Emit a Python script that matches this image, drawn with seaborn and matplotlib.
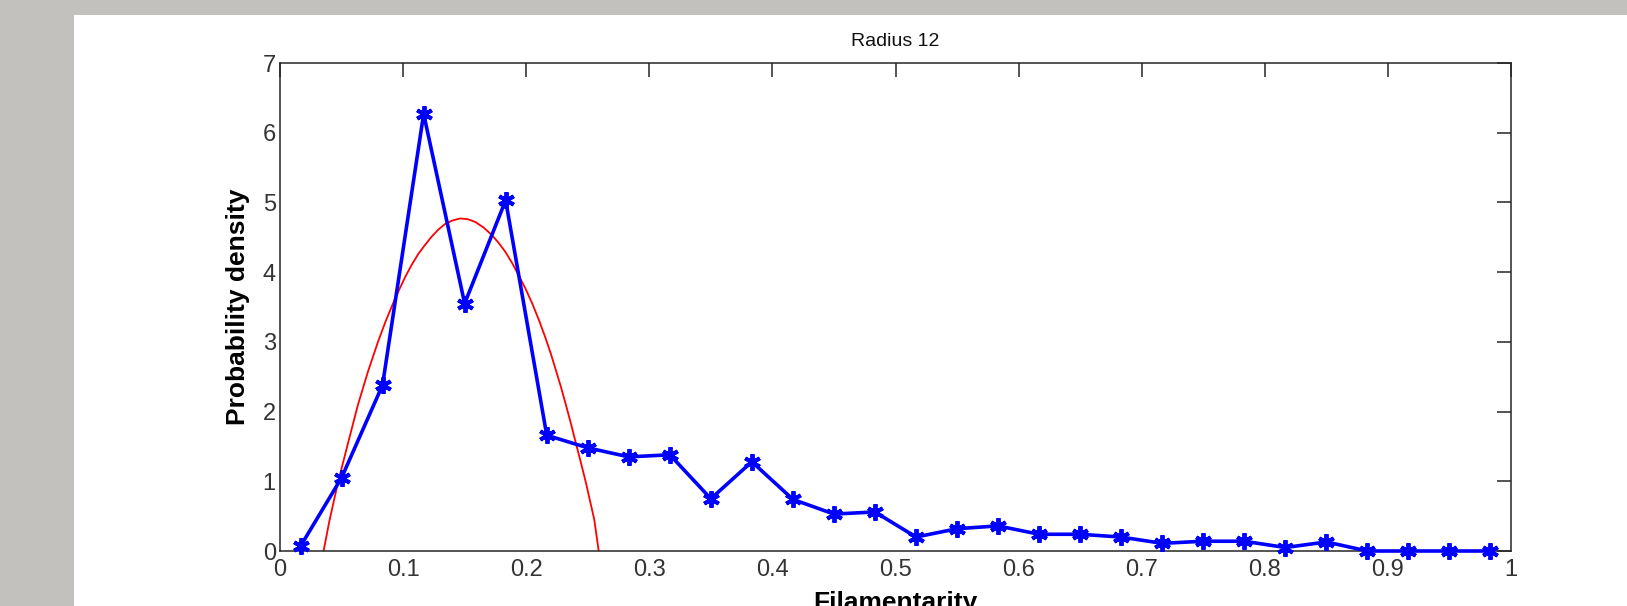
import matplotlib
matplotlib.use("Agg")
import matplotlib.pyplot as plt
from matplotlib.patches import Rectangle
import seaborn as sns

# histogram of filamentarity (bin centres and density)
bin_centres = [0.0167, 0.05, 0.0833, 0.1167, 0.15, 0.1833, 0.2167, 0.25, 0.2833, 0.3167,
               0.35, 0.3833, 0.4167, 0.45, 0.4833, 0.5167, 0.55, 0.5833, 0.6167, 0.65,
               0.6833, 0.7167, 0.75, 0.7833, 0.8167, 0.85, 0.8833, 0.9167, 0.95, 0.9833]
density = [0.07, 1.05, 2.38, 6.27, 3.55, 5.03, 1.66, 1.48, 1.35, 1.38,
           0.75, 1.28, 0.74, 0.53, 0.56, 0.20, 0.32, 0.36, 0.24, 0.24,
           0.20, 0.11, 0.14, 0.14, 0.05, 0.13, 0.0, 0.0, 0.0, 0.0]

# red fitted curve
fit_x = [0.0354, 0.040, 0.0469, 0.055, 0.0632, 0.0714, 0.0796, 0.0857, 0.0918, 0.0966,
         0.1014, 0.1068, 0.1123, 0.1178, 0.1232, 0.1286, 0.134, 0.140, 0.1463, 0.1525,
         0.1586, 0.1654, 0.1722, 0.1776, 0.1831, 0.1886, 0.194, 0.1995, 0.2049, 0.2104,
         0.2158, 0.22, 0.224, 0.2281, 0.2322, 0.2363, 0.2403, 0.2444, 0.2485, 0.2553, 0.2589]
fit_y = [0.0, 0.42, 0.97, 1.53, 2.09, 2.57, 3.0, 3.29, 3.55, 3.74,
         3.92, 4.10, 4.26, 4.39, 4.51, 4.61, 4.69, 4.74, 4.77, 4.76,
         4.72, 4.64, 4.53, 4.42, 4.29, 4.13, 3.95, 3.76, 3.55, 3.31,
         3.05, 2.83, 2.6, 2.36, 2.1, 1.83, 1.55, 1.27, 0.98, 0.45, 0.0]

x_ticks = [0, 0.1, 0.2, 0.3, 0.4, 0.5, 0.6, 0.7, 0.8, 0.9, 1]
x_ticklabels = ["0", "0.1", "0.2", "0.3", "0.4", "0.5", "0.6", "0.7", "0.8", "0.9", "1"]
y_ticks = [0, 1, 2, 3, 4, 5, 6, 7]

sns.set_theme(style="white")
plt.rcParams["font.family"] = ["Liberation Sans", "DejaVu Sans"]

W, H = 1627, 606
fig = plt.figure(figsize=(W / 100, H / 100), dpi=100, facecolor="#c3c1be")
# white figure window over the grey backdrop
fig.patches.append(Rectangle((74 / W, 0), 1 - 74 / W, (H - 15) / H,
                             transform=fig.transFigure, facecolor="white",
                             edgecolor="none", zorder=-5))

ax = fig.add_axes([280 / W, (H - 551) / H, (1511 - 280) / W, (551 - 63) / H])
ax.set_facecolor("white")

sns.lineplot(x=fit_x, y=fit_y, ax=ax, color="#ff0000", lw=1.3,
             estimator=None, sort=False, zorder=2)
sns.lineplot(x=bin_centres, y=density, ax=ax, color="#0000ff", lw=2.6,
             marker=(6, 2, 0), markersize=12, markeredgewidth=2.8,
             markeredgecolor="#0000ff", estimator=None, sort=False,
             clip_on=False, zorder=3)

ax.set_xlim(0, 1)
ax.set_ylim(0, 7)
ax.set_xticks(x_ticks)
ax.set_xticklabels(x_ticklabels)
ax.set_yticks(y_ticks)

for s in ax.spines.values():
    s.set_visible(True)
    s.set_color("#262626")
    s.set_linewidth(1.1)

ax.tick_params(direction="in", length=10, width=1.1, color="#262626",
               top=True, right=True, labelsize=17, labelcolor="#333333")
ax.tick_params(axis="x", pad=6)
ax.tick_params(axis="y", pad=3)

ax.set_title("Radius 12", fontsize=14, pad=12, color="#111111")
ax.set_xlabel("Filamentarity", fontsize=19, fontweight="bold", color="black")
ax.set_ylabel("Probability density", fontsize=19, fontweight="bold", color="black")
ax.xaxis.set_label_coords(0.5, -0.082)
ax.yaxis.set_label_coords(-0.0244, 0.5)

fig.savefig("out.png", dpi=100, facecolor=fig.get_facecolor())
